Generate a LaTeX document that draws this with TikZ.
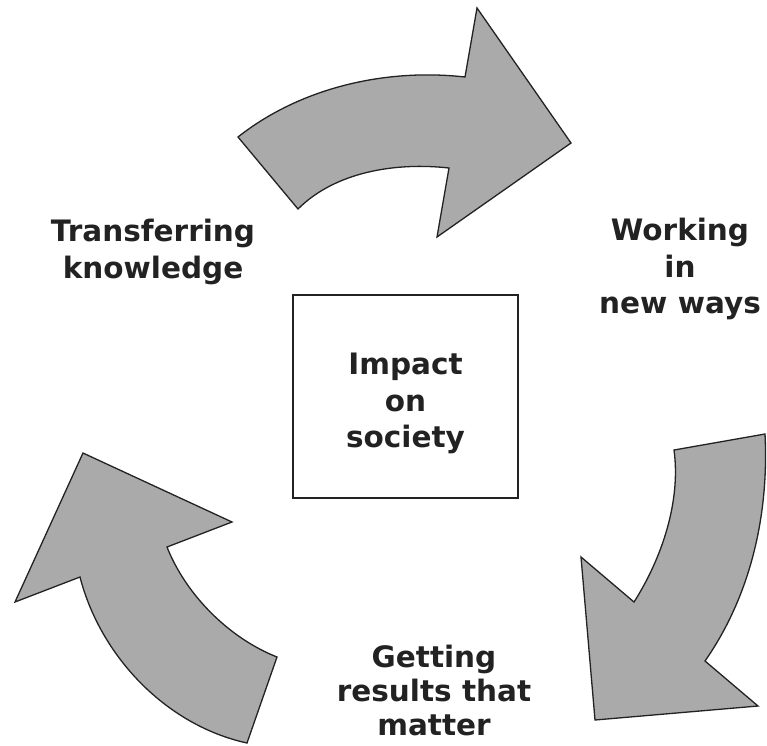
\documentclass[tikz,border=0pt]{standalone}
\usepackage{fontspec}
\setmainfont{DejaVu Sans}
\usepackage{tikz}
\usetikzlibrary{positioning}
\definecolor{ArrowGrey}{HTML}{AAAAAA}
\definecolor{InkDark}{HTML}{222222}

\tikzset{
  cyclearrow/.style={fill=ArrowGrey, draw=InkDark, line width=1.3pt, line join=miter},
  steplabel/.style={font=\fontsize{29.5}{36.5}\selectfont\bfseries, text=InkDark, align=center, inner sep=0pt},
}

\begin{document}
\begin{tikzpicture}[x=1pt,y=-1pt]
  \useasboundingbox (0,0) rectangle (767,745);

  % centre box
  \node[draw=InkDark, line width=1.2pt, minimum width=225pt, minimum height=203pt] (impact) at (405.5,396.5) {};
  \node[steplabel] (impacttext) at ([yshift=-7pt]impact.center) {Impact\\on\\society};

  % top arrow
  \draw[cyclearrow] (238,137) .. controls (300,88) and (385,68) .. (465,77)
    -- (477,8) -- (571,143) -- (437,237) -- (449,168)
    .. controls (395,162) and (335,172) .. (298,209) -- cycle;

  % right arrow
  \draw[cyclearrow] (674,450) -- (765,434)
    .. controls (769,514) and (751,595) .. (705,661)
    -- (758,706) -- (595,720) -- (581,557) -- (634,602)
    .. controls (662,558) and (681,501) .. (674,450) -- cycle;

  % left arrow
  \draw[cyclearrow] (83,453) -- (232,522) -- (167,547)
    .. controls (186,595) and (229,638) .. (277,657)
    -- (247,743)
    .. controls (165,725) and (100,655) .. (80,577)
    -- (15,602) -- cycle;

  % step labels
  \node[steplabel] (transfer) at (153,252) {Transferring\\knowledge};
  \node[steplabel] (working) at (680,269) {Working\\in\\new ways};
  \node[steplabel, font=\fontsize{29.5}{34}\selectfont\bfseries] (results) at (434,690) {Getting\\results that\\matter};
\end{tikzpicture}
\end{document}
